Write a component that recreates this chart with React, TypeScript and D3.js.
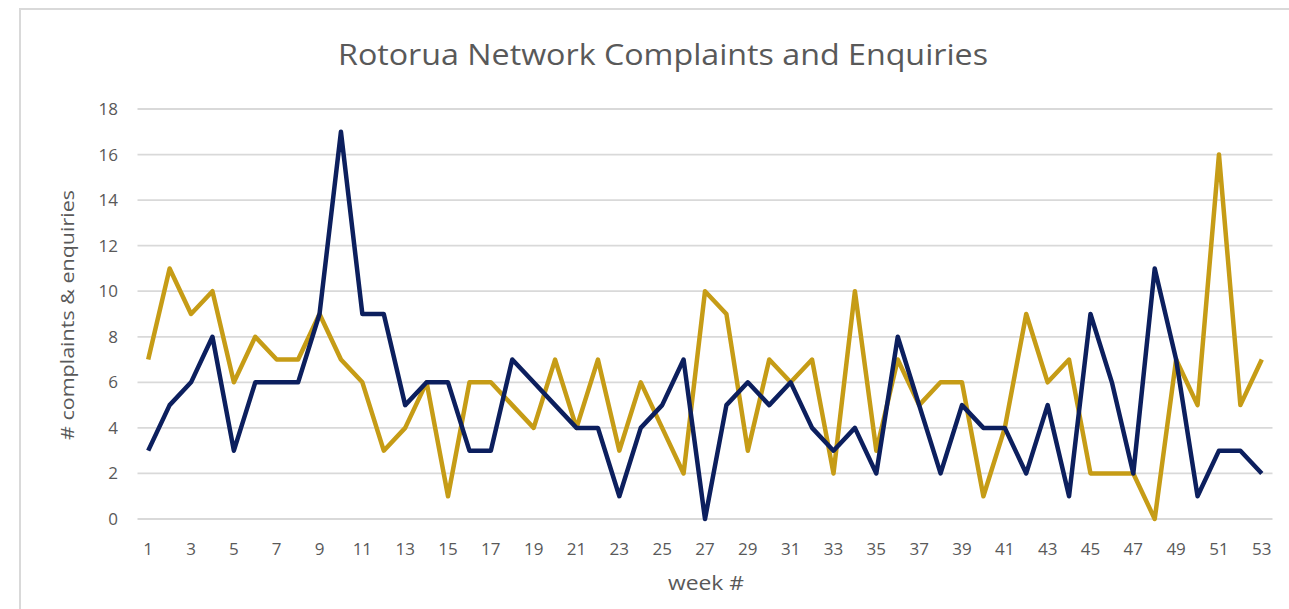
import React from "react";
import * as d3 from "d3";

const weeks: number[] = Array.from({ length: 53 }, (_, i) => i + 1);
const goldSeries: number[] = [
  7, 11, 9, 10, 6, 8, 7, 7, 9, 7, 6, 3, 4, 6, 1, 6, 6, 5, 4, 7, 4, 7, 3, 6, 4, 2,
  10, 9, 3, 7, 6, 7, 2, 10, 3, 7, 5, 6, 6, 1, 4, 9, 6, 7, 2, 2, 2, 0, 7, 5, 16, 5, 7,
];
const navySeries: number[] = [
  3, 5, 6, 8, 3, 6, 6, 6, 9, 17, 9, 9, 5, 6, 6, 3, 3, 7, 6, 5, 4, 4, 1, 4, 5, 7,
  0, 5, 6, 5, 6, 4, 3, 4, 2, 8, 5, 2, 5, 4, 4, 2, 5, 1, 9, 6, 2, 11, 7, 1, 3, 3, 2,
];
const yTicks: number[] = [0, 2, 4, 6, 8, 10, 12, 14, 16, 18];

const W = 1289;
const H = 609;
const FONT = "'Open Sans', 'Noto Sans', sans-serif";
const TEXT = "#595959";

export default function App() {
  const left = 137.5;
  const right = 1272.5;
  const top = 109;
  const bottom = 519;

  const x = d3.scaleBand<number>().domain(weeks).range([left, right]);
  const cx = (w: number) => (x(w) as number) + x.bandwidth() / 2;
  const y = d3.scaleLinear().domain([0, 18]).range([bottom, top]);

  const line = d3
    .line<number>()
    .x((_, i) => cx(weeks[i]))
    .y((d) => y(d));

  return (
    <svg
      width={W}
      height={H}
      style={{ position: "absolute", left: 0, top: 0, background: "#fff" }}
    >
      <rect x={0} y={0} width={W} height={H} fill="#fff" />
      <rect
        x={20}
        y={9}
        width={W + 20}
        height={H + 20}
        fill="#fff"
        stroke="#d9d9d9"
        strokeWidth={2}
      />
      <text
        x={663}
        y={65}
        textAnchor="middle"
        fontFamily={FONT}
        fontSize={29}
        fill={TEXT}
        textLength={650}
        lengthAdjust="spacingAndGlyphs"
      >
        Rotorua Network Complaints and Enquiries
      </text>
      {yTicks.map((t) => (
        <g key={t}>
          <line
            x1={left}
            x2={right}
            y1={y(t)}
            y2={y(t)}
            stroke="#d9d9d9"
            strokeWidth={1.8}
          />
          <text
            x={118}
            y={y(t)}
            dy="0.35em"
            textAnchor="end"
            fontFamily={FONT}
            fontSize={17}
            fill={TEXT}
          >
            {t}
          </text>
        </g>
      ))}
      {weeks
        .filter((w) => w % 2 === 1)
        .map((w) => (
          <text
            key={w}
            x={cx(w)}
            y={549}
            dy="0.35em"
            textAnchor="middle"
            fontFamily={FONT}
            fontSize={17}
            fill={TEXT}
          >
            {w}
          </text>
        ))}
      <text
        x={706}
        y={583}
        dy="0.35em"
        textAnchor="middle"
        fontFamily={FONT}
        fontSize={20}
        fill={TEXT}
        textLength={76}
        lengthAdjust="spacingAndGlyphs"
      >
        week #
      </text>
      <text
        transform={`translate(68,315) rotate(-90)`}
        dy="0.35em"
        textAnchor="middle"
        fontFamily={FONT}
        fontSize={18}
        fill={TEXT}
        textLength={250}
        lengthAdjust="spacingAndGlyphs"
      >
        # complaints &amp; enquiries
      </text>
      <path
        d={line(goldSeries) || ""}
        fill="none"
        stroke="#C69C16"
        strokeWidth={4.5}
        strokeLinejoin="round"
      />
      <path
        d={line(navySeries) || ""}
        fill="none"
        stroke="#0C1F5E"
        strokeWidth={4.5}
        strokeLinejoin="round"
      />
    </svg>
  );
}
